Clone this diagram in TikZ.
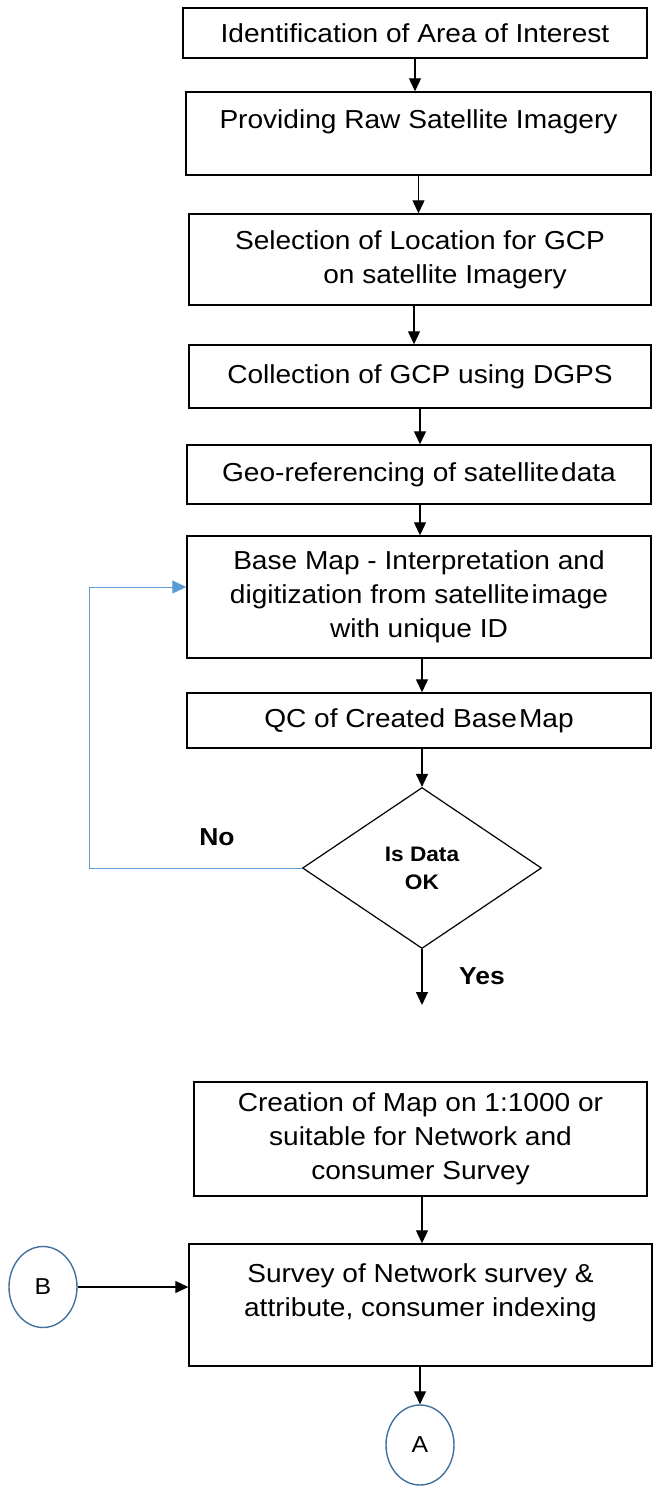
\documentclass[tikz,border=0pt]{standalone}
\usepackage{fontspec}
\setmainfont[FakeStretch=1.08]{Liberation Sans}
\usetikzlibrary{shapes.geometric,arrows.meta}
\definecolor{loopblue}{HTML}{5B9BD5}
\definecolor{circblue}{HTML}{41719C}
\begin{document}
\begin{tikzpicture}[x=1pt,y=-1pt,
  box/.style={draw,line width=1.4pt,inner sep=0pt,align=center,font=\fontsize{26}{34}\selectfont},
  arr/.style={line width=1.1pt,-{Triangle[length=13pt,width=12pt]}},
  bluearr/.style={draw=loopblue,line width=1pt,-{Triangle[length=14pt,width=13pt,fill=loopblue]}},
  decision/.style={draw,diamond,line width=1.2pt,inner sep=0pt,align=center,font=\bfseries\fontsize{21}{28}\selectfont},
  lbl/.style={font=\bfseries\fontsize{24.5}{28}\selectfont,inner sep=0pt},
  conn/.style={draw=circblue,ellipse,line width=1.4pt,inner sep=0pt,font=\fontsize{23}{27}\selectfont}]
\useasboundingbox (0,0) rectangle (653,1494);
\node[box,minimum width=464pt,minimum height=50pt] (b1) at (415,33) {Identification of Area of Interest};
\node[box,minimum width=465pt,minimum height=83pt] (b2) at (418.5,133.5) {Providing Raw Satellite Imagery\\[-16pt]\strut};
\node[box,minimum width=462pt,minimum height=91pt] (b3) at (420,259.5) {Selection of Location for GCP\\\hspace*{50pt}on satellite Imagery};
\node[box,minimum width=462pt,minimum height=63pt] (b4) at (420,376.5) {Collection of GCP using DGPS};
\node[box,minimum width=464pt,minimum height=59pt] (b5) at (419,474.5) {Geo-referencing of satellite\kern2pt data};
\node[box,minimum width=464pt,minimum height=122pt] (b6) at (419,597) {Base Map - Interpretation and\\digitization from satellite\kern2pt image\\with unique ID};
\node[box,minimum width=464pt,minimum height=55pt] (b7) at (419,720.5) {QC of Created Base\kern2pt Map};
\node[decision,minimum width=239pt,minimum height=161pt] (d) at (422,868) {Is Data\\OK};
\node[lbl] (no) at (217,837) {No};
\node[lbl] (yes) at (482,976) {Yes};
\coordinate (yend) at (422,1005);
\node[box,minimum width=453pt,minimum height=114pt] (b8) at (420.5,1139) {Creation of Map on 1:1000 or\\suitable for Network and\\consumer Survey};
\node[box,minimum width=463pt,minimum height=122pt] (b9) at (420.5,1305) {Survey of Network survey \&\\attribute, consumer indexing\\[-14pt]\strut};
\node[conn,minimum width=68pt,minimum height=81pt] (B) at (43,1287) {B};
\node[conn,minimum width=68pt,minimum height=80pt] (A) at (420,1445) {A};
\coordinate (lp) at (89,587);
% connectors
\draw[arr] (b1) -- (b1 |- b2.north);
\draw[arr] (b2) -- (b2 |- b3.north);
\draw[arr] (b3.south -| 414,0) -- (b4.north -| 414,0);
\draw[arr] (b4) -- (b4 |- b5.north);
\draw[arr] (b5.south -| 420,0) -- (b6.north -| 420,0);
\draw[arr] (b6.south -| d.north) -- (b7.north -| d.north);
\draw[arr] (b7.south -| d.north) -- (d.north);
\draw[arr] (d.south) -- (yend);
\draw[arr] (b8.south -| d.north) -- (b9.north -| d.north);
\draw[arr] (b9.south -| A.north) -- (A.north);
\draw[arr] (B) -- (B -| b9.west);
\draw[bluearr] (d.west) -| (lp) -- (lp -| b6.west);
\end{tikzpicture}
\end{document}
